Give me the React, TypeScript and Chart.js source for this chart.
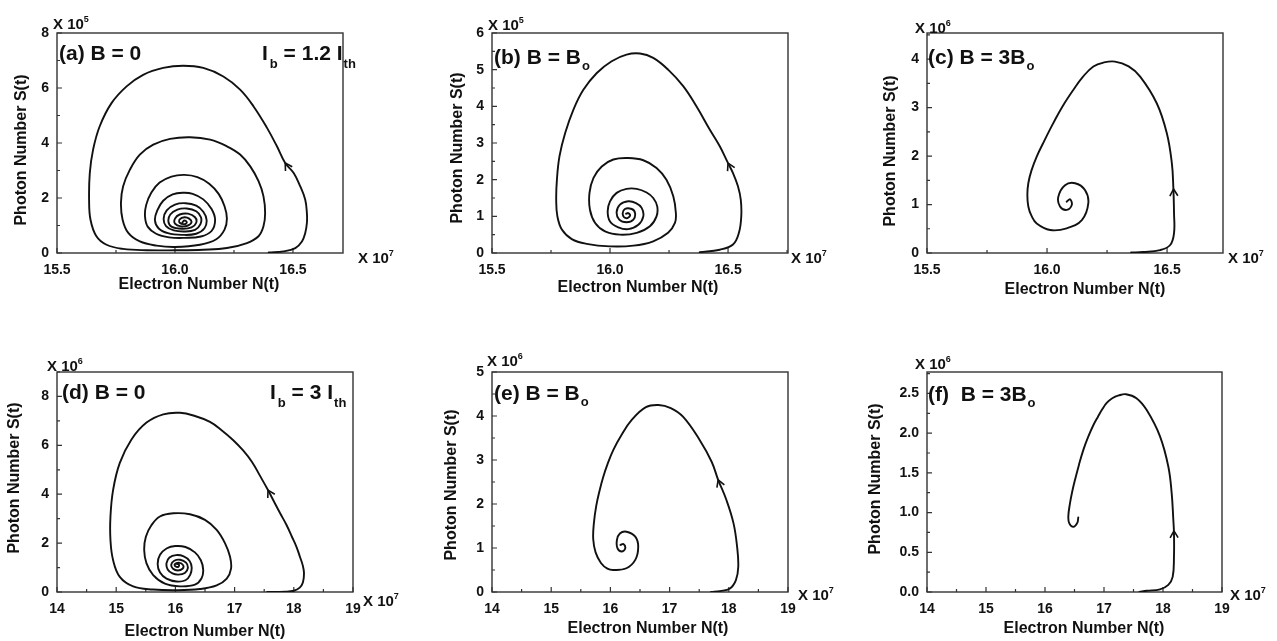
import React, { useEffect, useRef } from "react";
import { Chart, registerables } from "chart.js";
Chart.register(...registerables);

const FONT = '"Liberation Sans", Arial, Helvetica, sans-serif';
const INK = "#111111";

// ---------------- data (N in 1e7, S in 1e5 / 1e6) ----------------
// (a) B = 0, Ib = 1.2 Ith
const aN = [16.397,16.460,16.510,16.538,16.552,16.559,16.559,16.552,16.531,16.503,16.467,16.432,16.390,16.333,16.276,16.205,16.120,16.035,15.950,15.865,15.795,15.731,15.681,15.653,15.639,15.636,15.642,15.667,15.710,15.780,15.880,16.000,16.120,16.220,16.305,16.354,16.375,16.382,16.375,16.354,16.319,16.276,16.220,16.149,16.064,15.979,15.908,15.851,15.809,15.780,15.771,15.778,15.802,15.851,15.922,16.000,
  16.106,16.175,16.21,16.22,16.21,16.185,16.145,16.095,16.04,15.985,15.935,15.9,15.878,15.873,15.885,15.92,15.975,16.04,
  16.11,16.155,16.17,16.155,16.12,16.075,16.035,15.99,15.95,15.925,15.915,15.93,15.97,16.03,
  16.09,16.125,16.134,16.12,16.09,16.045,16.0,15.965,15.952,15.962,15.995,16.04,
  16.085,16.108,16.11,16.09,16.05,16.01,15.98,15.972,15.985,16.03,
  16.07,16.09,16.085,16.055,16.02,16.0,16.0,16.025,16.055,16.07,16.06,16.04,16.02,16.02,16.04,16.05,16.04,16.032];
const aS = [0.02,0.06,0.18,0.42,0.73,1.09,1.45,1.94,2.42,2.91,3.27,3.88,4.55,5.33,5.94,6.42,6.73,6.81,6.73,6.48,6.06,5.45,4.61,3.76,2.91,1.94,1.21,0.61,0.30,0.15,0.10,0.10,0.12,0.18,0.36,0.61,0.97,1.45,2.06,2.61,3.15,3.58,3.88,4.12,4.21,4.15,3.94,3.58,3.03,2.42,1.82,1.21,0.73,0.42,0.27,0.22,
  0.30,0.50,0.85,1.25,1.70,2.15,2.52,2.76,2.84,2.78,2.56,2.2,1.75,1.32,0.95,0.7,0.57,0.55,
  0.6,0.8,1.2,1.6,1.95,2.15,2.19,2.13,1.9,1.55,1.2,0.9,0.72,0.66,
  0.7,0.9,1.2,1.5,1.72,1.81,1.76,1.55,1.25,0.98,0.82,0.78,
  0.84,1.05,1.3,1.52,1.62,1.58,1.4,1.15,0.96,0.88,
  0.93,1.1,1.3,1.43,1.4,1.25,1.07,0.97,1.0,1.12,1.25,1.3,1.22,1.1,1.05,1.12,1.18,1.12];

// (b) B = Bo
const bN = [16.380,16.465,16.521,16.546,16.556,16.554,16.542,16.521,16.500,16.465,16.423,16.366,16.310,16.246,16.183,16.127,16.070,16.007,15.944,15.887,15.845,15.810,15.786,15.775,15.772,15.777,15.796,15.838,15.901,16.000,16.099,16.183,16.246,16.275,16.279,16.268,16.239,16.197,16.141,16.077,16.014,15.965,15.930,15.913,15.915,15.937,15.979,16.042,16.113,16.169,16.197,16.200,16.183,16.155,16.113,16.070,16.028,16.000,15.990,16.000,16.035,16.077,16.120,16.141,16.134,16.110,16.077,16.042,16.028,16.039,16.070,16.099,16.106,16.092,16.063,16.054,16.068,16.085,16.077,16.068];
const bS = [0.02,0.09,0.23,0.55,1.00,1.45,1.82,2.18,2.45,2.91,3.36,4.00,4.55,5.00,5.32,5.44,5.41,5.23,4.91,4.45,3.91,3.27,2.64,2.00,1.45,1.00,0.64,0.38,0.25,0.18,0.20,0.32,0.55,0.82,1.09,1.55,2.00,2.32,2.53,2.59,2.55,2.36,2.05,1.64,1.18,0.82,0.59,0.50,0.55,0.73,1.00,1.27,1.50,1.65,1.75,1.75,1.64,1.41,1.14,0.86,0.70,0.65,0.77,1.00,1.23,1.36,1.41,1.32,1.11,0.91,0.84,0.91,1.09,1.20,1.20,1.05,0.95,1.02,1.09,1.07];

// (c) B = 3Bo
const cN = [16.35,16.40,16.471,16.513,16.529,16.529,16.526,16.52,16.499,16.457,16.388,16.34,16.283,16.235,16.193,16.15,16.11,16.065,16.026,15.99,15.957,15.935,15.922,15.918,15.922,15.935,15.957,16.013,16.082,16.145,16.172,16.158,16.117,16.075,16.047,16.054,16.082,16.103,16.096,16.082];
const cS = [0.01,0.02,0.06,0.165,0.41,0.82,1.37,1.85,2.47,3.09,3.64,3.85,3.95,3.93,3.85,3.64,3.37,3.03,2.68,2.33,1.99,1.70,1.44,1.2,0.96,0.77,0.61,0.475,0.51,0.68,1.03,1.30,1.44,1.40,1.16,0.96,0.89,0.99,1.11,1.06];

// (d) B = 0, Ib = 3 Ith
const dN = [17.55,17.85,18.0,18.1,18.155,18.172,18.15,18.105,18.045,17.97,17.875,17.767,17.665,17.564,17.43,17.294,17.14,16.973,16.78,16.584,16.33,16.078,15.795,15.512,15.258,15.061,14.948,14.903,14.903,14.948,15.061,15.287,15.625,16.020,16.415,16.697,16.867,
  16.940,16.923,16.839,16.697,16.500,16.246,15.964,15.738,15.597,15.501,15.473,15.512,15.625,15.823,16.077,
  16.331,16.44,16.47,16.43,16.33,16.17,16.0,15.85,15.74,15.70,15.74,15.85,16.02,
  16.17,16.25,16.275,16.24,16.14,16.01,15.9,15.85,15.87,15.95,16.05,
  16.16,16.21,16.18,16.08,15.98,15.93,15.96,16.04,16.12,16.13,16.06,15.99,16.0,16.05,16.06,16.02];
const dS = [0.0,0.01,0.05,0.18,0.4,0.78,1.1,1.43,1.85,2.25,2.75,3.23,3.7,4.17,4.75,5.32,5.8,6.22,6.62,6.96,7.2,7.33,7.27,6.93,6.24,5.28,4.18,3.09,2.13,1.30,0.62,0.23,0.10,0.07,0.12,0.27,0.55,
  0.96,1.44,1.99,2.54,2.95,3.18,3.22,3.09,2.74,2.26,1.71,1.17,0.69,0.34,0.23,
  0.30,0.55,0.9,1.3,1.62,1.84,1.88,1.78,1.52,1.15,0.8,0.55,0.43,
  0.48,0.7,1.0,1.27,1.46,1.51,1.41,1.18,0.92,0.76,0.71,
  0.78,0.98,1.2,1.32,1.28,1.12,0.95,0.88,0.95,1.1,1.2,1.14,1.05,1.03,1.12,1.15];

// (e) B = Bo
const eN = [17.70,17.85,18.02,18.12,18.16,18.14,18.08,17.96,17.82,17.71,17.51,17.23,17.02,16.81,16.6,16.36,16.18,16.05,15.95,15.88,15.82,15.76,15.72,15.71,15.75,15.84,15.95,16.05,16.27,16.42,16.47,16.42,16.27,16.16,16.11,16.12,16.19,16.25,16.22,16.17];
const eS = [0.0,0.02,0.08,0.27,0.575,1.03,1.56,2.09,2.55,2.96,3.45,3.98,4.18,4.25,4.2,3.91,3.55,3.23,2.9,2.62,2.32,1.95,1.55,1.2,0.9,0.66,0.53,0.50,0.54,0.73,1.03,1.26,1.37,1.33,1.18,0.99,0.92,0.99,1.09,1.07];

// (f) B = 3Bo
const fN = [17.60,17.724,17.949,18.09,18.164,18.186,18.186,18.175,18.147,18.09,17.949,17.724,17.55,17.373,17.25,17.14,17.046,16.97,16.9,16.819,16.73,16.65,16.575,16.508,16.46,16.424,16.395,16.412,16.48,16.547,16.564];
const fS = [0.0,0.016,0.034,0.09,0.19,0.445,0.74,0.91,1.245,1.58,1.96,2.29,2.44,2.49,2.475,2.44,2.38,2.30,2.21,2.10,1.95,1.79,1.6,1.41,1.26,1.12,0.95,0.865,0.82,0.87,0.94];

// direction arrows (tip position on each trajectory), panels a..f
const arrowN = [16.467, 16.5, 16.527, 17.564, 17.82, 18.186];
const arrowS = [3.27, 2.45, 1.32, 4.17, 2.55, 0.77];

// ticks
const xTicksTop = [15.5, 16.0, 16.5];
const xLabelsTop = ["15.5", "16.0", "16.5"];
const xTicksBottom = [14, 15, 16, 17, 18, 19];
const xLabelsBottom = ["14", "15", "16", "17", "18", "19"];
const aYTicks = [0, 2, 4, 6, 8];
const aYLabels = ["0", "2", "4", "6", "8"];
const bYTicks = [0, 1, 2, 3, 4, 5, 6];
const bYLabels = ["0", "1", "2", "3", "4", "5", "6"];
const cYTicks = [0, 1, 2, 3, 4];
const cYLabels = ["0", "1", "2", "3", "4"];
const dYTicks = [0, 2, 4, 6, 8];
const dYLabels = ["0", "2", "4", "6", "8"];
const eYTicks = [0, 1, 2, 3, 4, 5];
const eYLabels = ["0", "1", "2", "3", "4", "5"];
const fYTicks = [0, 0.5, 1.0, 1.5, 2.0, 2.5];
const fYLabels = ["0.0", "0.5", "1.0", "1.5", "2.0", "2.5"];

const xTitle = "Electron Number N(t)";
const yTitle = "Photon Number S(t)";

// ---------------- layout ----------------
type Part = { t: string; size: number; dy?: number; dx?: number };
type Rich = { parts: Part[]; x: number; y: number };
type Panel = {
  id: string;
  N: number[]; S: number[];
  arrow: [number, number];
  xMin: number; xMax: number; xTicks: number[]; xLabels: string[];
  yMin: number; yMax: number; yTicks: number[]; yLabels: string[];
  box: { left: number; top: number; width: number; height: number };
  area: { left: number; top: number; right: number; bottom: number };
  yTitlePos: [number, number];
  xTitlePos: [number, number];
  texts: Rich[];
};

const BIG = 21, SUB = 13, MUL = 15, SUP = 9;
const mulY = (e: string, x: number, y: number): Rich => ({ parts: [{ t: "X 10", size: MUL }, { t: e, size: SUP, dy: -7 }], x, y });
const bLabel = (s: string, x: number, y: number): Rich => ({ parts: [{ t: s, size: BIG }], x, y });
const bSub = (s: string, x: number, y: number): Rich => ({ parts: [{ t: s, size: BIG }, { t: "o", size: SUB, dy: 6, dx: 1 }], x, y });
const ibLabel = (v: string, x: number, y: number): Rich => ({
  parts: [
    { t: "I", size: BIG }, { t: "b", size: SUB, dy: 8, dx: 2 },
    { t: " = " + v + " I", size: BIG }, { t: "th", size: SUB, dy: 8, dx: 1 },
  ], x, y,
});

const COLS = [{ left: 0, width: 425 }, { left: 425, width: 430 }, { left: 855, width: 422 }];
const ROWS = [{ top: 0, height: 315 }, { top: 315, height: 326 }];
const box = (c: number, r: number) => ({ left: COLS[c].left, width: COLS[c].width, top: ROWS[r].top, height: ROWS[r].height });

const panels: Panel[] = [
  {
    id: "a", N: aN, S: aS, arrow: [arrowN[0], arrowS[0]],
    xMin: 15.5, xMax: 16.712, xTicks: xTicksTop, xLabels: xLabelsTop,
    yMin: 0, yMax: 8, yTicks: aYTicks, yLabels: aYLabels,
    box: box(0, 0), area: { left: 57, top: 33, right: 343, bottom: 253 },
    yTitlePos: [22, 150], xTitlePos: [199, 285],
    texts: [mulY("5", 53, 29), mulY("7", 358, 263), bLabel("(a) B = 0", 59, 60), ibLabel("1.2", 262, 60)],
  },
  {
    id: "b", N: bN, S: bS, arrow: [arrowN[1], arrowS[1]],
    xMin: 15.5, xMax: 16.754, xTicks: xTicksTop, xLabels: xLabelsTop,
    yMin: 0, yMax: 6, yTicks: bYTicks, yLabels: bYLabels,
    box: box(1, 0), area: { left: 492, top: 33, right: 788, bottom: 253 },
    yTitlePos: [458, 148], xTitlePos: [638, 288],
    texts: [mulY("5", 488, 30), mulY("7", 791, 263), bSub("(b) B = B", 494, 64)],
  },
  {
    id: "c", N: cN, S: cS, arrow: [arrowN[2], arrowS[2]],
    xMin: 15.5, xMax: 16.733, xTicks: xTicksTop, xLabels: xLabelsTop,
    yMin: 0, yMax: 4.54, yTicks: cYTicks, yLabels: cYLabels,
    box: box(2, 0), area: { left: 927, top: 33, right: 1223, bottom: 253 },
    yTitlePos: [891, 151], xTitlePos: [1085, 290],
    texts: [mulY("6", 915, 33), mulY("7", 1228, 263), bSub("(c) B = 3B", 928, 64)],
  },
  {
    id: "d", N: dN, S: dS, arrow: [arrowN[3], arrowS[3]],
    xMin: 14, xMax: 19, xTicks: xTicksBottom, xLabels: xLabelsBottom,
    yMin: 0, yMax: 9, yTicks: dYTicks, yLabels: dYLabels,
    box: box(0, 1), area: { left: 57, top: 372, right: 353, bottom: 592 },
    yTitlePos: [15, 478], xTitlePos: [205, 632],
    texts: [mulY("6", 47, 371), mulY("7", 363, 606), bLabel("(d) B = 0", 62, 399), ibLabel("3", 270, 399)],
  },
  {
    id: "e", N: eN, S: eS, arrow: [arrowN[4], arrowS[4]],
    xMin: 14, xMax: 19, xTicks: xTicksBottom, xLabels: xLabelsBottom,
    yMin: 0, yMax: 5, yTicks: eYTicks, yLabels: eYLabels,
    box: box(1, 1), area: { left: 492, top: 372, right: 788, bottom: 592 },
    yTitlePos: [452, 485], xTitlePos: [648, 629],
    texts: [mulY("6", 487, 366), mulY("7", 798, 600), bSub("(e) B = B", 494, 400)],
  },
  {
    id: "f", N: fN, S: fS, arrow: [arrowN[5], arrowS[5]],
    xMin: 14, xMax: 19, xTicks: xTicksBottom, xLabels: xLabelsBottom,
    yMin: 0, yMax: 2.77, yTicks: fYTicks, yLabels: fYLabels,
    box: box(2, 1), area: { left: 927, top: 372, right: 1222, bottom: 592 },
    yTitlePos: [876, 479], xTitlePos: [1084, 629],
    texts: [mulY("6", 915, 369), mulY("7", 1230, 600), bSub("(f)  B = 3B", 928, 401)],
  },
];

function minorValues(ticks: number[], min: number, max: number): number[] {
  const step = ticks[1] - ticks[0];
  const out: number[] = [];
  for (let v = ticks[0] - step / 2; v <= max + 1e-9; v += step) {
    if (v >= min - 1e-9) out.push(v);
  }
  return out;
}

function drawParts(ctx: CanvasRenderingContext2D, r: Rich, ox: number, oy: number) {
  let cx = r.x - ox;
  for (const p of r.parts) {
    ctx.font = `bold ${p.size}px ${FONT}`;
    cx += p.dx || 0;
    ctx.fillText(p.t, cx, r.y - oy + (p.dy || 0));
    cx += ctx.measureText(p.t).width;
  }
}

function decorPlugin(p: Panel) {
  return {
    id: "decor_" + p.id,
    beforeDatasetsDraw(chart: any) {
      const ctx: CanvasRenderingContext2D = chart.ctx;
      const { left, right, top, bottom } = chart.chartArea;
      const xs = chart.scales.x, ys = chart.scales.y;
      ctx.save();
      ctx.strokeStyle = "#333333";
      ctx.lineWidth = 1.4;
      ctx.strokeRect(left, top, right - left, bottom - top);
      ctx.lineWidth = 1.2;
      ctx.beginPath();
      for (const v of p.xTicks) {
        const px = xs.getPixelForValue(v);
        ctx.moveTo(px, bottom); ctx.lineTo(px, bottom - 5);
      }
      for (const v of minorValues(p.xTicks, p.xMin, p.xMax)) {
        const px = xs.getPixelForValue(v);
        ctx.moveTo(px, bottom); ctx.lineTo(px, bottom - 3);
      }
      for (const v of p.yTicks) {
        const py = ys.getPixelForValue(v);
        ctx.moveTo(left, py); ctx.lineTo(left + 5, py);
      }
      for (const v of minorValues(p.yTicks, p.yMin, p.yMax)) {
        const py = ys.getPixelForValue(v);
        ctx.moveTo(left, py); ctx.lineTo(left + 3, py);
      }
      ctx.stroke();
      ctx.restore();
    },
    afterDraw(chart: any) {
      const ctx: CanvasRenderingContext2D = chart.ctx;
      const xs = chart.scales.x, ys = chart.scales.y;
      const ox = p.box.left, oy = p.box.top;
      ctx.save();
      // arrow head
      const pts = chart.getDatasetMeta(0).data;
      const tx = xs.getPixelForValue(p.arrow[0]);
      const ty = ys.getPixelForValue(p.arrow[1]);
      let best = 0, bd = Infinity;
      pts.forEach((e: any, i: number) => {
        const d = (e.x - tx) ** 2 + (e.y - ty) ** 2;
        if (d < bd) { bd = d; best = i; }
      });
      const a = pts[Math.max(0, best - 1)], b = pts[Math.min(pts.length - 1, best + 1)];
      let dx = b.x - a.x, dy = b.y - a.y;
      const L = Math.hypot(dx, dy) || 1;
      dx /= L; dy /= L;
      ctx.strokeStyle = INK;
      ctx.lineWidth = 1.6;
      ctx.beginPath();
      for (const s of [1, -1]) {
        const ang = s * Math.PI / 6;
        const c = Math.cos(ang), sn = Math.sin(ang);
        const bx = -dx, by = -dy;
        const rx = bx * c - by * sn, ry = bx * sn + by * c;
        ctx.moveTo(tx, ty);
        ctx.lineTo(tx + rx * 8, ty + ry * 8);
      }
      ctx.stroke();

      // texts
      ctx.fillStyle = INK;
      ctx.textAlign = "left";
      ctx.textBaseline = "alphabetic";
      for (const r of p.texts) drawParts(ctx, r, ox, oy);

      ctx.font = `bold 16px ${FONT}`;
      ctx.textAlign = "center";
      ctx.textBaseline = "middle";
      ctx.fillText(xTitle, p.xTitlePos[0] - ox, p.xTitlePos[1] - oy);
      ctx.save();
      ctx.translate(p.yTitlePos[0] - ox, p.yTitlePos[1] - oy);
      ctx.rotate(-Math.PI / 2);
      ctx.fillText(yTitle, 0, 0);
      ctx.restore();
      ctx.restore();
    },
  };
}

function PanelChart({ p }: { p: Panel }) {
  const ref = useRef<HTMLCanvasElement>(null);
  useEffect(() => {
    const canvas = ref.current!;
    const tickFont = { family: FONT, size: 14, weight: "bold" as const };
    const chart = new Chart(canvas, {
      type: "scatter",
      data: {
        datasets: [{
          data: p.N.map((n, i) => ({ x: n, y: p.S[i] })),
          showLine: true,
          borderColor: INK,
          borderWidth: 1.9,
          pointRadius: 0,
          pointHoverRadius: 0,
          tension: 0.4,
          fill: false,
          borderCapStyle: "round",
          borderJoinStyle: "round",
        } as any],
      },
      options: {
        responsive: false,
        maintainAspectRatio: false,
        animation: false,
        events: [],
        layout: {
          padding: {
            left: 0,
            top: p.area.top - p.box.top,
            right: p.box.left + p.box.width - p.area.right,
            bottom: 0,
          },
        },
        plugins: { legend: { display: false }, tooltip: { enabled: false } },
        scales: {
          x: {
            type: "linear", position: "bottom", min: p.xMin, max: p.xMax,
            grid: { display: false, drawTicks: false },
            border: { display: false },
            ticks: {
              padding: 9, color: INK, font: tickFont, autoSkip: false, maxRotation: 0,
              callback: (_v: any, i: number) => p.xLabels[i],
            },
            afterBuildTicks: (s: any) => { s.ticks = p.xTicks.map((v) => ({ value: v })); },
            afterFit: (s: any) => { s.height = p.box.top + p.box.height - p.area.bottom; },
          },
          y: {
            type: "linear", position: "left", min: p.yMin, max: p.yMax,
            grid: { display: false, drawTicks: false },
            border: { display: false },
            ticks: {
              padding: 8, color: INK, font: tickFont, autoSkip: false,
              callback: (_v: any, i: number) => p.yLabels[i],
            },
            afterBuildTicks: (s: any) => { s.ticks = p.yTicks.map((v) => ({ value: v })); },
            afterFit: (s: any) => { s.width = p.area.left - p.box.left; },
          },
        },
      } as any,
      plugins: [decorPlugin(p)],
    });
    return () => chart.destroy();
  }, [p]);
  return (
    <canvas
      ref={ref}
      width={p.box.width}
      height={p.box.height}
      style={{ position: "absolute", left: p.box.left, top: p.box.top, width: p.box.width, height: p.box.height }}
    />
  );
}

export default function App() {
  return (
    <div style={{ position: "fixed", left: 0, top: 0, width: 1277, height: 641, background: "#ffffff", overflow: "hidden" }}>
      {panels.map((p) => <PanelChart key={p.id} p={p} />)}
    </div>
  );
}
